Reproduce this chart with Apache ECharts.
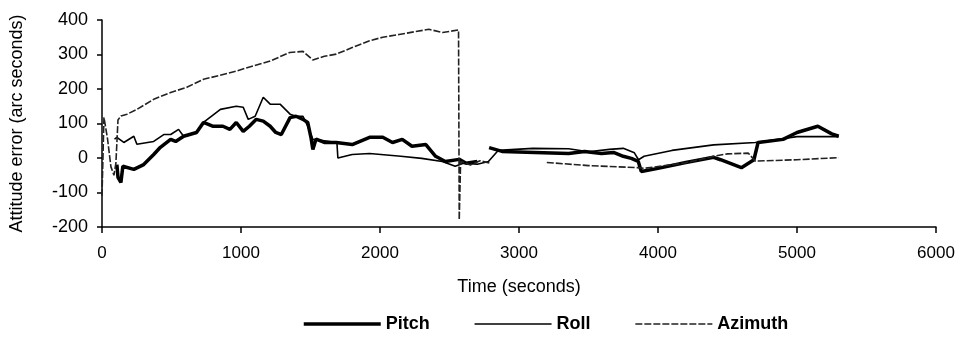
<!DOCTYPE html>
<html>
<head>
<meta charset="utf-8">
<script src="https://cdn.jsdelivr.net/npm/echarts@6/dist/echarts.min.js"></script>
<style>
  html, body { margin: 0; padding: 0; background: #fff; }
  #chart { width: 966px; height: 337px; }
</style>
</head>
<body>
<div id="chart"></div>
<script>
// time (s) and attitude error (arc seconds); null = gap
var pitchTime = [107, 115, 136, 150, 229, 300, 372, 420, 494, 530, 587, 680, 730, 800, 870, 920, 966, 1016, 1060, 1110,
  1160, 1210, 1250, 1290, 1353, 1396, 1446, 1480, 1503, 1517, 1540, 1600, 1685, 1800, 1925, 2020, 2090, 2160, 2230, 2330,
  2400, 2470, 2570, 2620, 2700, 2750, 2785, 2878, 3114, 3357, 3472, 3593, 3680, 3750, 3808, 3858, 3880, 4000, 4200, 4400,
  4450, 4600, 4690, 4720, 4900, 5000, 5150, 5250, 5300];
var pitchValue = [-19, -56, -71, -24, -33, -19, 10, 31, 54, 48, 63, 74, 103, 92, 92, 83, 103, 77, 92, 112,
  107, 92, 74, 68, 117, 121, 112, 103, 60, 25, 55, 45, 45, 39, 60, 60, 45, 54, 34, 39,
  5, -10, -4, -15, -10, null, 30, 19, 16, 13, 19, 13, 16, 5, -1, -10, -39, -30, -13, 2,
  -5, -28, -5, 45, 54, 74, 92, 70, 63];

var rollTime = [90, 107, 157, 229, 251, 372, 444, 494, 551, 587, 680, 730, 852, 966, 1016, 1052, 1102, 1160, 1210, 1281,
  1353, 1396, 1446, 1480, 1517, 1600, 1690, 1697, 1800, 1925, 2150, 2300, 2448, 2541, 2600, 2700, 2780, 2850, 3100, 3357,
  3500, 3650, 3750, 3830, 3860, 3900, 4100, 4400, 4700, 5000, 5300];
var rollValue = [55, 60, 45, 63, 40, 48, 68, 68, 83, 63, 74, 103, 141, 150, 147, 112, 121, 176, 156, 156,
  127, 121, 121, 92, 54, 50, 45, 0, 10, 13, 5, -1, -10, -24, -15, -18, -10, 22, 28, 27,
  18, 25, 28, 15, -5, 5, 22, 38, 45, 62, 62];

var azimuthTime = [0, 14, 40, 64, 86, 100, 115, 136, 180, 252, 372, 494, 610, 730, 850, 966, 1088, 1210, 1350, 1446,
  1517, 1600, 1685, 1800, 1925, 2020, 2137, 2250, 2352, 2450, 2565, 2570, 2580, 2650, 2720, 2790, 2900, 3200, 3500, 3850,
  3900, 4200, 4400, 4500, 4650, 4700, 5000, 5300];
var azimuthValue = [-110, 118, 55, -25, -50, -15, 110, 122, 127, 141, 170, 190, 205, 228, 240, 252, 267, 281, 306, 309,
  284, 295, 301, 320, 340, 350, 358, 366, 373, 364, 371, -179, -10, -20, -8, -15, null, -13, -22, -28,
  -30, -14, 5, 12, 14, -9, -5, 1];

var legendNames = ['Pitch', 'Roll', 'Azimuth'];
var lineWidths = [3.5, 1.6, 1.6];

function pairs(ts, vs) {
  return ts.map(function (t, i) { return [t, vs[i] === null ? '-' : vs[i]]; });
}

var myChart = echarts.init(document.getElementById('chart'));

var font = 'Liberation Sans, Arial, sans-serif';
var option = {
  animation: false,
  textStyle: { fontFamily: font },
  grid: { left: 98, top: 20, right: 30, bottom: 110 },
  legend: {
    data: legendNames.map(function (n, i) {
      return { name: n, lineStyle: { width: lineWidths[i] } };
    }),
    left: 297,
    top: 310,
    itemWidth: 77,
    itemHeight: 14,
    itemGap: 44,
    itemStyle: { opacity: 0 },
    textStyle: { fontSize: 18, fontWeight: 'bold', color: '#000', fontFamily: font }
  },
  xAxis: {
    type: 'value',
    min: 0,
    max: 6000,
    interval: 1000,
    name: 'Time (seconds)',
    nameLocation: 'middle',
    nameGap: 51,
    nameTextStyle: { fontSize: 18, color: '#000' },
    axisLine: { show: true, onZero: false, lineStyle: { color: '#000', width: 1.5 } },
    axisTick: { show: true, length: 6, lineStyle: { color: '#000', width: 1.5 } },
    axisLabel: { fontSize: 17, color: '#000', margin: 18, formatter: function (v) { return String(v); } },
    splitLine: { show: false }
  },
  yAxis: {
    type: 'value',
    min: -200,
    max: 400,
    interval: 100,
    name: 'Attitude error (arc seconds)',
    nameLocation: 'middle',
    nameGap: 76,
    nameTextStyle: { fontSize: 18, color: '#000' },
    axisLine: { show: true, lineStyle: { color: '#000', width: 1.5 } },
    axisTick: { show: true, length: 5, lineStyle: { color: '#000', width: 1.5 } },
    axisLabel: { fontSize: 18, color: '#000', margin: 14 },
    splitLine: { show: false }
  },
  series: [
    {
      name: 'Pitch',
      type: 'line',
      symbol: 'none',
      connectNulls: false,
      lineStyle: { color: '#000', width: lineWidths[0] },
      itemStyle: { color: '#000' },
      data: pairs(pitchTime, pitchValue)
    },
    {
      name: 'Roll',
      type: 'line',
      symbol: 'none',
      lineStyle: { color: '#000', width: lineWidths[1] },
      itemStyle: { color: '#000' },
      data: pairs(rollTime, rollValue)
    },
    {
      name: 'Azimuth',
      type: 'line',
      symbol: 'none',
      connectNulls: false,
      lineStyle: { color: '#222', width: lineWidths[2], type: [7, 2] },
      itemStyle: { color: '#222' },
      data: pairs(azimuthTime, azimuthValue)
    }
  ]
};

myChart.setOption(option);
</script>
</body>
</html>
